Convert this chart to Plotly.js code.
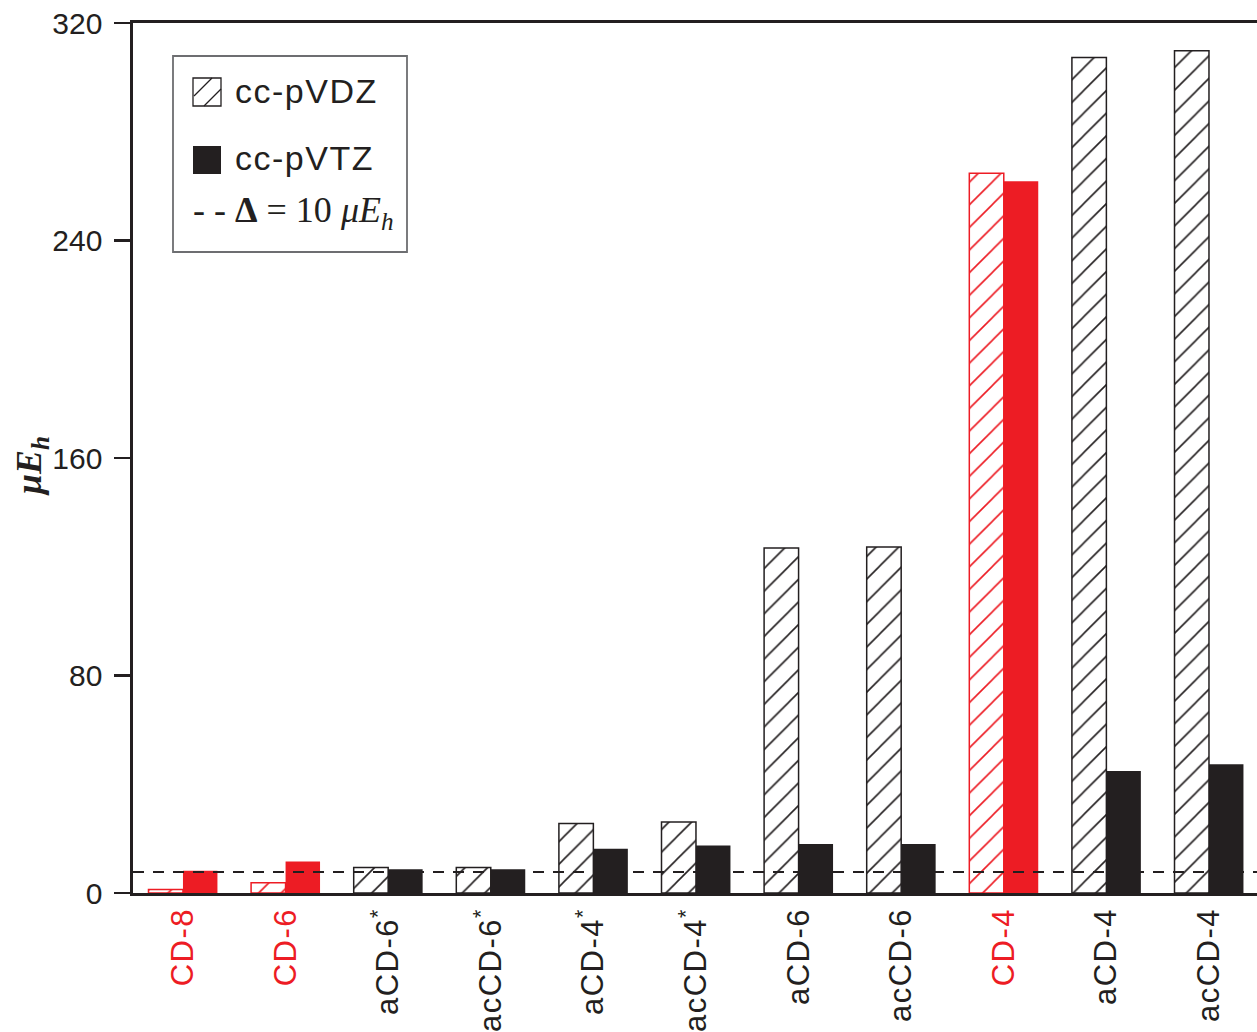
<!DOCTYPE html>
<html>
<head>
<meta charset="utf-8">
<script src="https://cdn.plot.ly/plotly-3.0.1.min.js"></script>
<style>html,body{margin:0;padding:0;background:#fff;}#chart{width:1257px;height:1032px;}</style>
</head>
<body>
<div id="chart"></div>
<script>
// ---- data ----
var categories = ['CD-8', 'CD-6', 'aCD-6*', 'acCD-6*', 'aCD-4*', 'acCD-4*', 'aCD-6', 'acCD-6', 'CD-4', 'aCD-4', 'acCD-4'];
var vdzValues = [1.3, 3.8, 9.4, 9.4, 25.6, 26.1, 126.9, 127.3, 264.7, 307.3, 309.8];
var vtzValues = [8.2, 11.6, 8.7, 8.7, 16.3, 17.5, 18.0, 18.0, 261.8, 44.9, 47.4];
var redCategories = ['CD-8', 'CD-6', 'CD-4'];
var thresholdValue = 7.7;
var yTickVals = [0, 80, 160, 240, 320];
var seriesNames = ['cc-pVDZ', 'cc-pVTZ'];

// ---- styling ----
var BLACK = '#231F20', RED = '#ED1C24';
var W = 1257, H = 1032, L = 133, R = 0, T = 23, B = 139;
var pw = W - L - R, ph = H - T - B;
function px(x) { return (x - L) / pw; }
function py(y) { return (H - B - y) / ph; }

var isRed = categories.map(function (c) { return redCategories.indexOf(c) >= 0; });
var colFor = isRed.map(function (r) { return r ? RED : BLACK; });
var ticktext = categories.map(function (c, i) {
  var t = c.indexOf('*') >= 0 ? c.replace('*', '') + '<sup>*</sup>' : c;
  return '<span style="color:' + colFor[i] + ';letter-spacing:1.5px">' + t + '</span>';
});

var traces = [
  {
    type: 'bar', name: seriesNames[0], x: categories, y: vdzValues,
    marker: {
      color: 'white',
      line: { color: colFor, width: 1.5 },
      pattern: { shape: '/', size: 16, solidity: 0.1, fgcolor: colFor, bgcolor: 'white', fillmode: 'replace' }
    },
    hoverinfo: 'x+y'
  },
  {
    type: 'bar', name: seriesNames[1], x: categories, y: vtzValues,
    marker: { color: colFor, line: { width: 0 } },
    hoverinfo: 'x+y'
  }
];

var shapes = [
  // threshold dashed line
  { type: 'line', xref: 'paper', yref: 'y', x0: 0, x1: 1, y0: thresholdValue, y1: thresholdValue,
    line: { color: BLACK, width: 2, dash: '11px,9px' }, layer: 'above' },
  // legend box
  { type: 'rect', xref: 'paper', yref: 'paper', x0: px(173), x1: px(407), y0: py(252), y1: py(56),
    line: { color: '#6d6e71', width: 1.8 }, fillcolor: 'white', layer: 'above' },
  // hatched swatch
  { type: 'rect', xref: 'paper', yref: 'paper', x0: px(193), x1: px(221), y0: py(106), y1: py(78),
    line: { color: BLACK, width: 1.3 }, fillcolor: 'white', layer: 'above' },
  { type: 'line', xref: 'paper', yref: 'paper', x0: px(194), y0: py(96), x1: px(212), y1: py(78),
    line: { color: BLACK, width: 1.2 }, layer: 'above' },
  { type: 'line', xref: 'paper', yref: 'paper', x0: px(204), y0: py(106), x1: px(221), y1: py(89),
    line: { color: BLACK, width: 1.2 }, layer: 'above' },
  // solid swatch
  { type: 'rect', xref: 'paper', yref: 'paper', x0: px(193), x1: px(221), y0: py(174), y1: py(146),
    line: { width: 0 }, fillcolor: BLACK, layer: 'above' }
];

var legendFont = { family: 'Liberation Sans, Arial, sans-serif', size: 34, color: BLACK };
var annotations = [
  { xref: 'paper', yref: 'paper', x: px(233), y: py(91), xanchor: 'left', yanchor: 'middle',
    text: '<span style="letter-spacing:1.5px">' + seriesNames[0] + '</span>', showarrow: false, font: legendFont },
  { xref: 'paper', yref: 'paper', x: px(233), y: py(158), xanchor: 'left', yanchor: 'middle',
    text: '<span style="letter-spacing:1.5px">' + seriesNames[1] + '</span>', showarrow: false, font: legendFont },
  { xref: 'paper', yref: 'paper', x: px(191), y: py(213), xanchor: 'left', yanchor: 'middle',
    text: '- - <b>Δ</b> = 10 <i>μE</i><sub><i>h</i></sub>', showarrow: false,
    font: { family: 'Liberation Serif, Times New Roman, serif', size: 36, color: BLACK } },
  // y-axis title
  { xref: 'paper', yref: 'paper', x: px(32), y: py(466), xanchor: 'center', yanchor: 'middle', textangle: -90,
    text: '<b><i>μE</i></b><sub><b><i>h</i></b></sub>', showarrow: false,
    font: { family: 'Liberation Serif, Times New Roman, serif', size: 36, color: BLACK } }
];

var layout = {
  width: W, height: H,
  margin: { l: L, r: R, t: T, b: B, pad: 0 },
  paper_bgcolor: 'white', plot_bgcolor: 'white',
  showlegend: false,
  barmode: 'group', bargap: 0.328, bargroupgap: 0,
  font: { family: 'Liberation Sans, Arial, sans-serif', color: BLACK },
  xaxis: {
    type: 'category', range: [-0.487, 10.468],
    tickmode: 'array', tickvals: categories, ticktext: ticktext, tickangle: -90,
    ticks: '', showgrid: false, zeroline: false,
    showline: true, mirror: true, linecolor: BLACK, linewidth: 2.6,
    tickfont: { size: 31, color: BLACK }
  },
  yaxis: {
    range: [0, 320], tickmode: 'array', tickvals: yTickVals,
    ticks: 'outside', ticklen: 16, tickwidth: 2.4, tickcolor: BLACK,
    showgrid: false, zeroline: false,
    showline: true, mirror: false, linecolor: BLACK, linewidth: 2.6,
    tickfont: { size: 30, color: BLACK }, ticklabelstandoff: 6
  },
  shapes: shapes,
  annotations: annotations
};

Plotly.newPlot('chart', traces, layout, { displayModeBar: false, staticPlot: true });
</script>
</body>
</html>
